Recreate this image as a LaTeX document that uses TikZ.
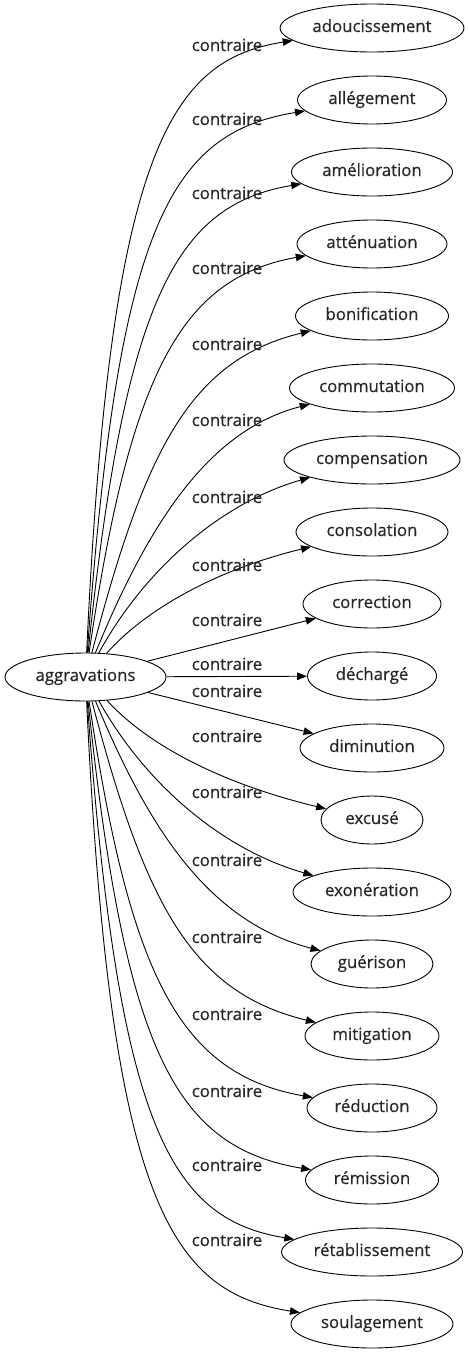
\documentclass[tikz,border=0pt]{standalone}
\usepackage{fontspec}
\newfontfamily\nodefont{Open Sans}[FakeBold=0.5]
\usetikzlibrary{arrows.meta,shapes.geometric}
\begin{document}
\begin{tikzpicture}[x=1pt,y=-1pt,
  every node/.style={font=\nodefont\fontsize{16.8}{20}\selectfont, text=black!85},
  word/.style={draw=black, ellipse, line width=0.9pt, inner sep=0pt, minimum height=48pt, text height=12pt, text depth=4pt},
  lbl/.style={inner sep=0pt, text height=12pt, text depth=4pt},
  arr/.style={line width=0.9pt, draw=black, -{Triangle[length=10pt,width=7.5pt]}}]
\useasboundingbox (0,0) rectangle (467,1355);
\node[word, minimum width=161pt] (src) at (85.5,677) {aggravations};
\foreach \i/\w/\t in {1/184/adoucissement, 2/149/allégement, 3/161/amélioration, 4/150/atténuation, 5/153/bonification, 6/165/commutation, 7/176/compensation, 8/152/consolation, 9/138/correction, 10/129/déchargé, 11/144/diminution, 12/102/excusé, 13/158/exonération, 14/122/guérison, 15/134/mitigation, 16/130/réduction, 17/133/rémission, 18/181/rétablissement, 19/162/soulagement}
  \node[word, minimum width=\w pt] (t\i) at (372,{28+72*(\i-1)}) {\t};
% curved connectors
\foreach \i/\a/\b/\c/\d in {1/110/150/170/60, 2/118/225/170/133, 3/125/300/175/205, 4/130/375/180/278, 5/145/450/190/360, 6/150/520/210/430, 7/150/560/230/500, 8/145/610/215/570,
  12/145/742/215/782, 13/150/792/230/852, 14/150/832/210/922, 15/145/902/190/992, 16/130/977/180/1074, 17/125/1052/175/1147, 18/118/1127/170/1219, 19/110/1202/170/1292}
  \draw[arr] (src) .. controls (\a,\b) and (\c,\d) .. (t\i);
% straight connectors
\foreach \i in {9,10,11}
  \draw[arr] (src) -- (t\i);
% labels
\foreach \i/\y in {1/47, 2/121, 3/195, 4/270, 5/346, 6/422, 7/499, 8/567, 9/622, 10/666, 11/693, 12/738, 13/794, 14/862, 15/939, 16/1016, 17/1093, 18/1167, 19/1242}
  \node[lbl] (l\i) at (227,\y) {contraire};
\end{tikzpicture}
\end{document}
